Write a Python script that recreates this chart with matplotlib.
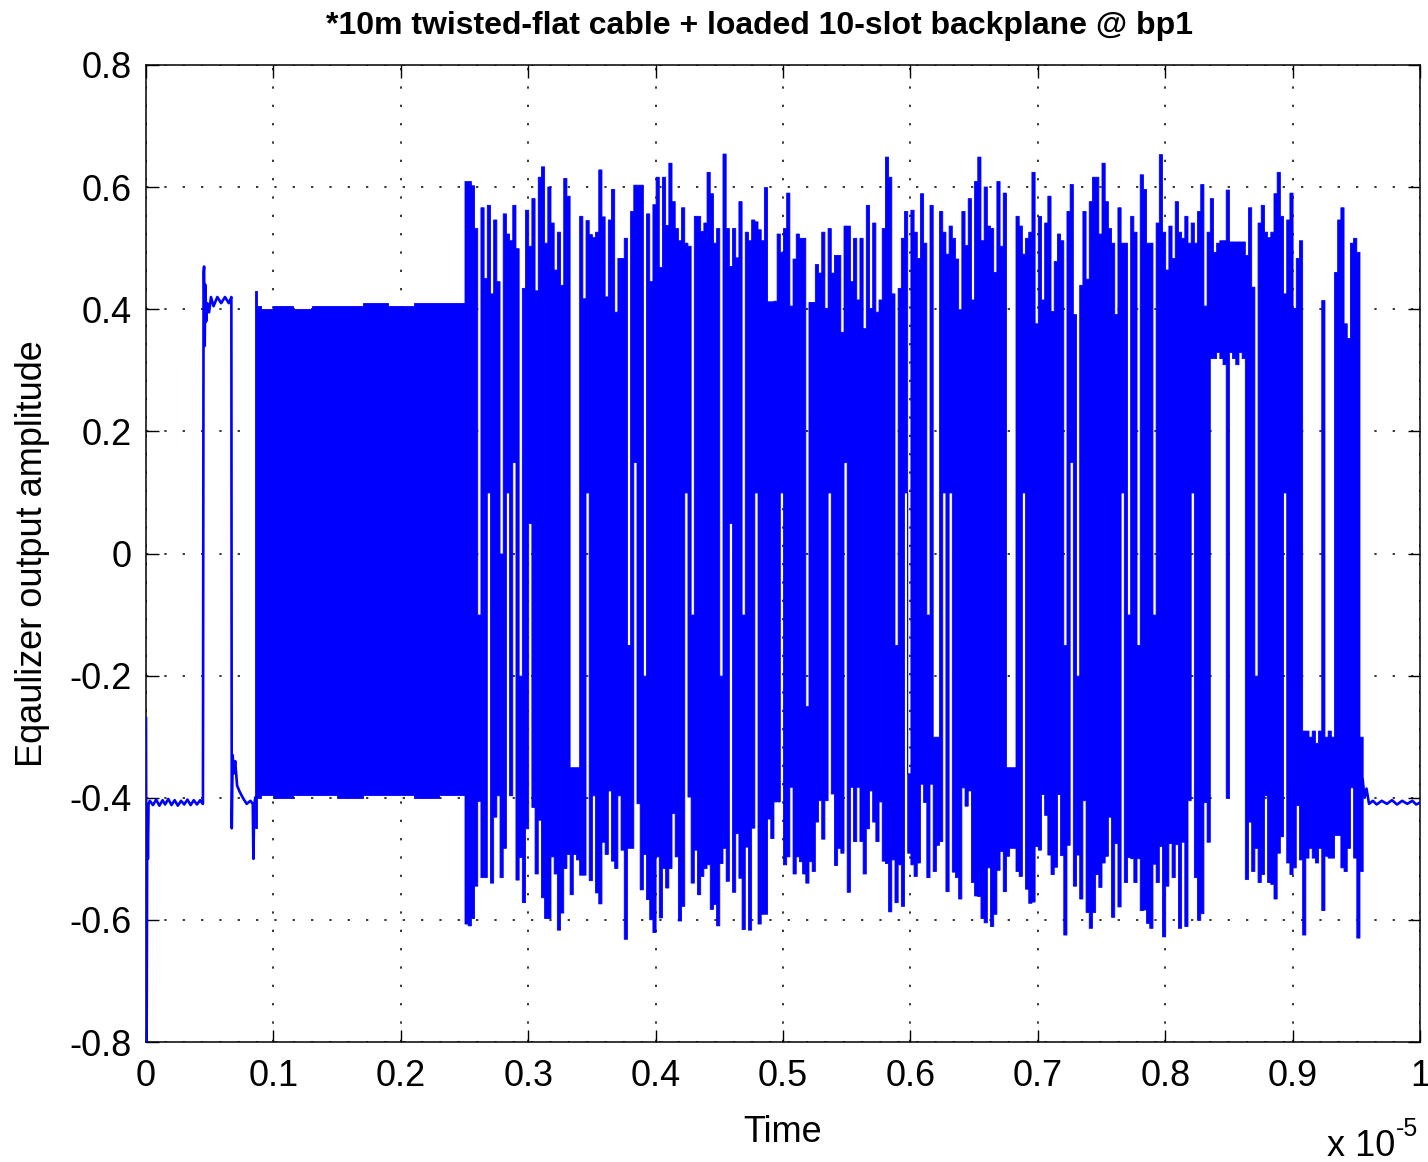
import numpy as np
import matplotlib
matplotlib.use('Agg')
import matplotlib.pyplot as plt

plt.rcParams['font.family'] = ['Liberation Sans', 'DejaVu Sans']

TITLE = '*10m twisted-flat cable + loaded 10-slot backplane @ bp1'
XLABEL = 'Time'
YLABEL = 'Eqaulizer output amplitude'
OFFSET_BASE = 'x 10'
OFFSET_EXP = '-5'

# ---- lead-in trace (time in ns, amplitude) ----
lead_ns = [0, 5, 10, 15, 20, 30, 55, 80, 105, 130, 150, 175, 200, 225, 250, 275,
           300, 325, 350, 375, 400, 425, 445, 447, 452, 456, 461, 466, 472, 480,
           495, 510, 530, 560, 590, 620, 650, 670, 673, 680, 690, 700, 715, 735,
           760, 790, 820, 838, 843, 850, 858]
lead_v = [-0.27, -0.80, -0.42, -0.50, -0.41, -0.405, -0.412, -0.403, -0.413, -0.404,
          -0.411, -0.402, -0.412, -0.404, -0.413, -0.405, -0.411, -0.403, -0.412,
          -0.404, -0.411, -0.404, -0.410, -0.41, 0.46, 0.47, 0.34, 0.44, 0.38, 0.41,
          0.395, 0.42, 0.405, 0.42, 0.41, 0.42, 0.41, 0.42, -0.45, -0.33, -0.36,
          -0.34, -0.38, -0.39, -0.40, -0.41, -0.405, -0.41, -0.50, -0.41, -0.40]

# ---- preamble envelope (ns) ----
pre_ns = [858, 870, 900, 1000, 1150, 1300, 1500, 1700, 1900, 2100, 2300, 2500]
pre_hi = [0.43, 0.405, 0.40, 0.405, 0.40, 0.405, 0.405, 0.41, 0.405, 0.41, 0.41, 0.41]
pre_lo = [-0.45, -0.40, -0.395, -0.40, -0.395, -0.395, -0.40, -0.395, -0.395, -0.40, -0.395, -0.395]

# ---- data burst: per-25 ns cell upper / lower excursion ----
burst_start_ns = 2500
burst_step_ns = 25
burst_hi = [
    0.610, 0.610, 0.603, 0.533, -0.10, 0.567, 0.451, 0.571, 0.426, 0.547,
    0.446, 0.00, 0.557, 0.524, 0.513, 0.571, 0.500, -0.20, 0.435, 0.563,
    0.504, 0.582, 0.431, 0.617, 0.634, 0.509, 0.601, 0.542, 0.465, 0.527,
    0.440, 0.615, 0.586, -0.35, -0.35, -0.35, 0.553, 0.418, 0.546, 0.523,
    0.518, 0.527, 0.629, 0.552, 0.421, 0.547, 0.597, 0.396, 0.484, 0.484,
    0.517, -0.15, 0.561, 0.604, 0.604, 0.604, -0.20, 0.557, 0.446, 0.572,
    0.617, 0.469, 0.617, 0.538, 0.640, 0.577, 0.533, 0.513, 0.567, 0.509,
    0.504, -0.10, 0.553, 0.553, 0.528, 0.542, 0.625, 0.590, 0.509, 0.533,
    -0.20, 0.655, 0.533, 0.471, 0.533, 0.485, 0.577, -0.10, 0.527, 0.513,
    0.547, 0.544, 0.531, 0.513, 0.600, 0.413, 0.413, 0.414, 0.524, 0.494,
    0.533, 0.591, 0.406, 0.483, 0.524, 0.517, 0.517, -0.25, 0.412, 0.412,
    0.474, 0.460, 0.527, 0.402, 0.533, 0.460, 0.489, 0.489, 0.363, 0.537,
    0.537, 0.446, 0.517, 0.416, 0.517, 0.369, 0.571, 0.402, 0.542, 0.396,
    0.416, 0.533, 0.650, 0.617, 0.426, -0.15, 0.435, 0.517, 0.561, -0.36,
    0.563, 0.527, 0.484, 0.590, 0.509, -0.10, 0.571, -0.30, -0.30, 0.561,
    0.527, 0.491, 0.537, 0.517, 0.483, 0.400, 0.561, 0.505, 0.582, 0.416,
    0.610, 0.650, 0.513, 0.601, 0.537, 0.533, 0.461, 0.610, 0.504, 0.591,
    -0.35, -0.35, -0.35, 0.553, 0.537, 0.491, 0.517, 0.527, 0.625, 0.377,
    0.553, 0.416, 0.542, 0.586, 0.397, 0.479, 0.524, 0.513, -0.15, 0.561,
    0.605, 0.392, -0.20, 0.440, 0.561, 0.450, 0.577, 0.617, 0.617, 0.524,
    0.640, 0.577, 0.533, 0.509, 0.392, 0.567, 0.509, 0.509, -0.10, 0.553,
    0.527, -0.15, 0.621, 0.597, 0.509, 0.509, -0.10, 0.542, 0.654, 0.527,
    0.465, 0.537, 0.484, 0.577, 0.527, 0.517, 0.553, 0.509, 0.542, 0.509,
    0.561, 0.605, 0.406, 0.527, 0.582, 0.494, 0.509, 0.513, 0.513, 0.596,
    0.511, 0.511, 0.511, 0.511, 0.511, 0.489, 0.567, 0.437, -0.20, 0.542,
    0.571, 0.527, 0.518, 0.527, 0.590, 0.625, 0.553, 0.426, 0.547, 0.591,
    0.402, 0.484, 0.513, -0.29, -0.29, -0.30, -0.29, -0.31, -0.29, 0.415,
    -0.30, -0.29, -0.30, 0.461, 0.547, 0.567, 0.377, 0.353, 0.509, 0.517,
    0.494, -0.30]
burst_lo = [
    -0.606, -0.609, -0.597, -0.544, -0.405, -0.530, -0.530, 0.10, -0.539, -0.431,
    -0.396, -0.530, -0.482, 0.10, -0.396, 0.15, -0.534, -0.497, -0.571, -0.450,
    0.05, -0.415, -0.524, -0.436, -0.563, -0.597, -0.597, -0.496, -0.524, -0.616,
    -0.588, -0.515, -0.492, -0.558, -0.492, -0.501, -0.526, -0.526, 0.10, -0.535,
    -0.396, -0.555, -0.573, -0.472, -0.492, -0.388, -0.503, -0.515, -0.396, -0.485,
    -0.631, -0.482, -0.482, 0.15, -0.409, -0.550, -0.492, -0.566, -0.599, -0.620,
    -0.496, -0.596, -0.515, -0.547, -0.515, -0.425, -0.496, -0.601, -0.577, 0.10,
    -0.398, -0.539, -0.485, -0.558, -0.528, -0.515, -0.509, -0.582, -0.574, -0.609,
    -0.507, -0.482, -0.536, 0.05, -0.554, -0.458, -0.531, -0.615, -0.480, -0.616,
    -0.449, 0.10, -0.606, -0.590, -0.590, -0.434, -0.466, -0.406, -0.406, 0.10,
    -0.509, -0.496, -0.382, -0.524, -0.496, -0.504, -0.524, -0.539, -0.504, -0.520,
    -0.439, -0.404, -0.467, -0.404, 0.10, -0.393, -0.510, -0.482, -0.490, 0.15,
    -0.554, -0.382, -0.471, -0.382, -0.471, -0.524, -0.450, -0.388, -0.439, -0.471,
    -0.406, -0.503, -0.507, -0.586, -0.501, -0.571, -0.509, -0.577, 0.10, -0.490,
    -0.509, -0.528, -0.506, -0.377, -0.407, -0.530, -0.377, -0.520, -0.477, -0.471,
    0.10, -0.553, 0.10, -0.521, -0.530, -0.565, -0.383, -0.413, -0.388, -0.538,
    -0.560, -0.561, -0.597, -0.604, -0.514, -0.610, -0.590, -0.518, -0.487, -0.553,
    -0.495, -0.482, -0.482, -0.520, -0.528, 0.10, -0.549, -0.572, -0.570, -0.479,
    -0.485, -0.394, -0.428, -0.493, -0.525, -0.513, -0.394, -0.494, -0.624, -0.477,
    0.15, -0.544, -0.493, -0.565, -0.404, -0.587, -0.613, -0.587, -0.525, -0.546,
    -0.506, -0.495, -0.431, -0.595, -0.474, -0.578, 0.10, -0.538, -0.497, -0.499,
    -0.538, -0.499, -0.584, -0.583, -0.605, -0.613, -0.508, -0.538, -0.479, -0.627,
    -0.544, -0.474, -0.530, -0.476, -0.613, -0.472, -0.610, -0.404, 0.10, -0.530,
    -0.600, -0.589, -0.407, -0.472, 0.32, 0.32, 0.33, 0.32, 0.31, -0.400,
    0.33, 0.32, 0.31, 0.33, 0.32, -0.533, -0.439, -0.520, -0.482, -0.538,
    -0.525, -0.396, -0.538, -0.541, -0.565, -0.490, -0.463, 0.10, -0.506, -0.525,
    -0.514, -0.412, -0.501, -0.624, -0.498, -0.482, -0.498, -0.506, -0.482, -0.584,
    -0.495, -0.498, -0.498, -0.461, -0.461, -0.514, -0.520, -0.482, -0.383, -0.498,
    -0.629, -0.520]

# ---- tail trace (ns) ----
tail_ns = [9550, 9565, 9580, 9600, 9630, 9660, 9700, 9740, 9780, 9820, 9860, 9900, 9940, 9970, 10000]
tail_v = [-0.37, -0.40, -0.385, -0.41, -0.405, -0.411, -0.405, -0.41, -0.404, -0.411,
          -0.405, -0.41, -0.405, -0.411, -0.408]

NS_PER_UNIT = 1e4   # x axis in units of 1e-5 s

fig = plt.figure(figsize=(14.28, 11.62), dpi=100)
ax = fig.add_axes([146 / 1428, 1 - 1042 / 1162, 1274 / 1428, 977 / 1162])

blue = '#0000ff'
lt = np.asarray(lead_ns) / NS_PER_UNIT
ax.plot(lt, lead_v, color=blue, lw=1.9, zorder=3)

pt = np.asarray(pre_ns) / NS_PER_UNIT
ax.fill_between(pt, pre_lo, pre_hi, step='post', color=blue, lw=0.6, zorder=3)

n = len(burst_hi)
bt = (burst_start_ns + burst_step_ns * np.arange(n + 1)) / NS_PER_UNIT
bh = np.append(burst_hi, burst_hi[-1])
bl = np.append(burst_lo, burst_lo[-1])
ax.fill_between(bt, bl, bh, step='post', color=blue, lw=0.6, zorder=3)

tt = np.asarray(tail_ns) / NS_PER_UNIT
ax.plot(tt, tail_v, color=blue, lw=1.9, zorder=3)

ax.set_xlim(0, 1)
ax.set_ylim(-0.8, 0.8)
xt = np.round(np.arange(0, 1.0001, 0.1), 1)
ax.set_xticks(xt)
ax.set_xticklabels(['0' if v == 0 else ('1' if v == 1 else f'{v:g}') for v in xt])
yt = np.round(np.arange(-0.8, 0.8001, 0.2), 1)
ax.set_yticks(yt)
ax.set_yticklabels(['0' if abs(v) < 1e-9 else f'{v:g}' for v in yt])

ax.tick_params(direction='in', length=9, width=1.0, top=True, right=True,
               labelsize=26, pad=10)
ax.tick_params(axis='x', pad=12)
for s in ax.spines.values():
    s.set_linewidth(1.1)
ax.set_axisbelow(True)
ax.grid(True, color='black', linestyle=(0, (1.5, 10.5)), linewidth=1.1)

ax.set_xlabel(XLABEL, fontsize=26, labelpad=15)
ax.set_ylabel(YLABEL, fontsize=26, labelpad=14)
fig.text(759 / 1428, 1 - 34 / 1162, TITLE, fontsize=23, fontweight='bold',
         ha='center', va='baseline')
fig.text(1395 / 1428, 1 - 1156 / 1162, OFFSET_BASE, fontsize=26,
         ha='right', va='baseline')
fig.text(1396 / 1428, 1 - 1136 / 1162, OFFSET_EXP, fontsize=18,
         ha='left', va='baseline')

fig.savefig('out.png', dpi=100)
